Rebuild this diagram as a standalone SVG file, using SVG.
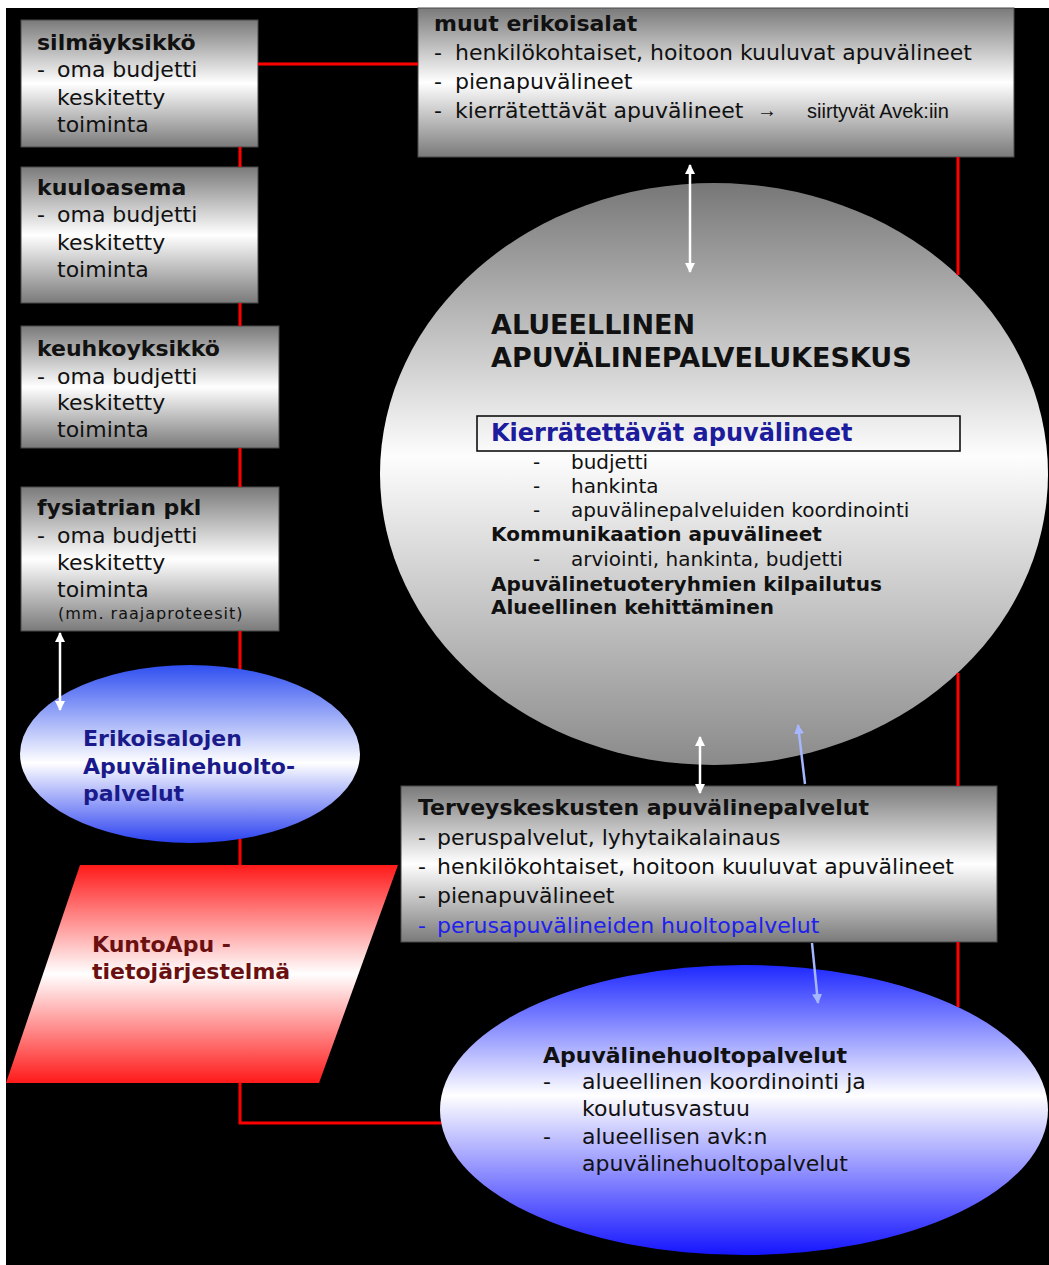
<svg xmlns="http://www.w3.org/2000/svg" width="1049" height="1265" viewBox="0 0 1049 1265">
<defs>
<linearGradient id="gBox" x1="0" y1="0" x2="0" y2="1">
<stop offset="0" stop-color="#7a7a7a"/><stop offset="0.5" stop-color="#ffffff"/><stop offset="1" stop-color="#7a7a7a"/>
</linearGradient>
<linearGradient id="gBig" x1="0" y1="0" x2="0" y2="1">
<stop offset="0" stop-color="#777777"/><stop offset="0.47" stop-color="#fdfdfd"/><stop offset="1" stop-color="#8a8a8a"/>
</linearGradient>
<linearGradient id="gBlue" x1="0" y1="0" x2="0" y2="1">
<stop offset="0" stop-color="#2f4ff0"/><stop offset="0.55" stop-color="#ffffff"/><stop offset="1" stop-color="#2a40f0"/>
</linearGradient>
<linearGradient id="gBlue2" x1="0" y1="0" x2="0" y2="1">
<stop offset="0" stop-color="#1e28ff"/><stop offset="0.45" stop-color="#ffffff"/><stop offset="1" stop-color="#1515ff"/>
</linearGradient>
<linearGradient id="gRed" x1="0" y1="0" x2="0" y2="1">
<stop offset="0" stop-color="#ff1a1a"/><stop offset="0.5" stop-color="#ffffff"/><stop offset="1" stop-color="#ff1a1a"/>
</linearGradient>
<marker id="ahW" viewBox="0 0 10 10" refX="9" refY="5" markerWidth="4" markerHeight="4" orient="auto-start-reverse">
<path d="M0,0 L10,5 L0,10 z" fill="#ffffff"/>
</marker>
<marker id="ahB" viewBox="0 0 10 10" refX="9" refY="5" markerWidth="4" markerHeight="4" orient="auto">
<path d="M0,0 L10,5 L0,10 z" fill="#a6b6ff"/>
</marker>
</defs>
<style>
text{font-family:"DejaVu Sans",Verdana,sans-serif;font-size:22px;fill:#111}
.b{font-weight:bold}
.box{fill:url(#gBox);stroke:#4a4a4a;stroke-width:1}
.red{stroke:#ff0000;stroke-width:3;fill:none}
.wa{stroke:#ffffff;stroke-width:2.5;fill:none;marker-start:url(#ahW);marker-end:url(#ahW)}
.ba{stroke:#a6b6ff;stroke-width:2.5;fill:none;marker-end:url(#ahB)}
.sm{font-size:20px}
.nar{font-family:"Liberation Sans",Arial,sans-serif;font-size:20px}
</style>
<rect x="0" y="0" width="1049" height="1265" fill="#ffffff"/>
<rect x="6" y="8" width="1043" height="1257" fill="#000000"/>

<g id="silmayksikko">
<rect class="box" x="21" y="20" width="237" height="127"/>
<text x="37" y="50" class="b">silmäyksikkö</text>
<text x="37" y="77">-</text><text x="57" y="77">oma budjetti</text>
<text x="57" y="105">keskitetty</text>
<text x="57" y="132">toiminta</text>
</g>
<g id="kuuloasema">
<rect class="box" x="21" y="167" width="237" height="136"/>
<text x="37" y="195" class="b">kuuloasema</text>
<text x="37" y="222">-</text><text x="57" y="222">oma budjetti</text>
<text x="57" y="250">keskitetty</text>
<text x="57" y="277">toiminta</text>
</g>
<g id="keuhkoyksikko">
<rect class="box" x="21" y="326" width="258" height="122"/>
<text x="37" y="356" class="b">keuhkoyksikkö</text>
<text x="37" y="384">-</text><text x="57" y="384">oma budjetti</text>
<text x="57" y="410">keskitetty</text>
<text x="57" y="437">toiminta</text>
</g>
<g id="fysiatrian">
<rect class="box" x="21" y="487" width="258" height="144"/>
<text x="37" y="515" class="b">fysiatrian pkl</text>
<text x="37" y="543">-</text><text x="57" y="543">oma budjetti</text>
<text x="57" y="570">keskitetty</text>
<text x="57" y="597">toiminta</text>
<text x="58" y="619" style="font-size:16px;letter-spacing:1px">(mm. raajaproteesit)</text>
</g>
<g id="muut">
<rect class="box" x="418" y="8" width="596" height="149"/>
<text x="434" y="31" class="b">muut erikoisalat</text>
<text x="434" y="60">-</text><text x="455" y="60">henkilökohtaiset, hoitoon kuuluvat apuvälineet</text>
<text x="434" y="89">-</text><text x="455" y="89">pienapuvälineet</text>
<text x="434" y="118">-</text><text x="455" y="118">kierrätettävät apuvälineet</text>
<text x="757" y="117" class="nar">→</text><text x="807" y="118" class="nar">siirtyvät Avek:iin</text>
</g>
<g id="avk">
<ellipse cx="714" cy="474" rx="334" ry="291" fill="url(#gBig)"/>
<text x="491" y="334" class="b" style="font-size:27px">ALUEELLINEN</text>
<text x="491" y="367" class="b" style="font-size:27px">APUVÄLINEPALVELUKESKUS</text>
<rect x="477" y="416" width="483" height="35" fill="none" stroke="#000" stroke-width="1.5"/>
<text x="491" y="441" class="b" style="font-size:24px;fill:#1c1c9c">Kierrätettävät apuvälineet</text>
<text x="533" y="469" class="sm">-</text><text x="571" y="469" class="sm">budjetti</text>
<text x="533" y="493" class="sm">-</text><text x="571" y="493" class="sm">hankinta</text>
<text x="533" y="517" class="sm">-</text><text x="571" y="517" class="sm">apuvälinepalveluiden koordinointi</text>
<text x="491" y="541" class="sm b">Kommunikaation apuvälineet</text>
<text x="533" y="566" class="sm">-</text><text x="571" y="566" class="sm">arviointi, hankinta, budjetti</text>
<text x="491" y="591" class="sm b">Apuvälinetuoteryhmien kilpailutus</text>
<text x="491" y="614" class="sm b">Alueellinen kehittäminen</text>
</g>
<g id="erikoisalojen">
<ellipse cx="190" cy="754" rx="170" ry="89" fill="url(#gBlue)"/>
<text x="83" y="746" class="b" style="fill:#1a1a8a">Erikoisalojen</text>
<text x="83" y="774" class="b" style="fill:#1a1a8a">Apuvälinehuolto-</text>
<text x="83" y="801" class="b" style="fill:#1a1a8a">palvelut</text>
</g>
<g id="kuntoapu">
<polygon points="80,865 398,865 319,1083 6,1083" fill="url(#gRed)"/>
<text x="92" y="952" class="b" style="fill:#6b1010">KuntoApu -</text>
<text x="92" y="979" class="b" style="fill:#6b1010">tietojärjestelmä</text>
</g>
<g id="terveys">
<rect class="box" x="401" y="786" width="596" height="156"/>
<text x="418" y="815" class="b">Terveyskeskusten apuvälinepalvelut</text>
<text x="418" y="845">-</text><text x="437" y="845">peruspalvelut, lyhytaikalainaus</text>
<text x="418" y="874">-</text><text x="437" y="874">henkilökohtaiset, hoitoon kuuluvat apuvälineet</text>
<text x="418" y="903">-</text><text x="437" y="903">pienapuvälineet</text>
<text x="418" y="933" style="fill:#2020ee">-</text><text x="437" y="933" style="fill:#2020ee">perusapuvälineiden huoltopalvelut</text>
</g>
<g id="huolto">
<ellipse cx="744" cy="1110" rx="304" ry="145" fill="url(#gBlue2)"/>
<text x="543" y="1063" class="b">Apuvälinehuoltopalvelut</text>
<text x="543" y="1089">-</text><text x="582" y="1089">alueellinen koordinointi ja</text>
<text x="582" y="1116">koulutusvastuu</text>
<text x="543" y="1144">-</text><text x="582" y="1144">alueellisen avk:n</text>
<text x="582" y="1171">apuvälinehuoltopalvelut</text>
</g>
<g id="connectors">
<path class="red" d="M258,64 H418"/>
<path class="red" d="M240,147 V167 M240,303 V326 M240,448 V487 M240,631 V669 M240,839 V865 M240,1083 V1123 H441"/>
<path class="red" d="M958,157 V275 M958,673 V786 M958,942 V1007"/>
<path class="wa" d="M690,165 V272"/>
<path class="wa" d="M60,633 V710"/>
<path class="wa" d="M700,737 V793"/>
<path class="ba" d="M805,784 L798,725"/>
<path class="ba" d="M812,943 L818,1003"/>
</g>
</svg>
